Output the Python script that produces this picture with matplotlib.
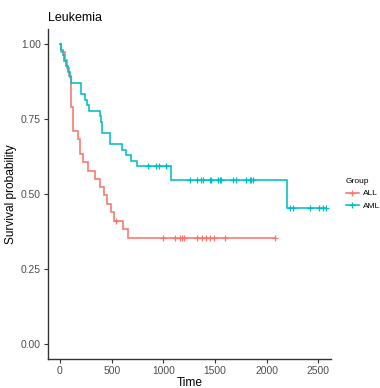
import numpy as np
import matplotlib
matplotlib.use("Agg")
import matplotlib.pyplot as plt
from matplotlib.lines import Line2D

plt.rcParams['font.family'] = ['Liberation Sans', 'DejaVu Sans']

# ---- data ----
groups = ["ALL", "AML"]
colors = ["#F8766D", "#00BFC4"]

all_time = [0, 5, 45, 68, 85, 104, 110, 126, 174, 190, 223, 275, 336, 384, 428, 450, 490, 523, 605, 660]
all_surv = [1.0, 0.974, 0.947, 0.921, 0.895, 0.868, 0.789, 0.711, 0.684, 0.634, 0.607, 0.576, 0.549,
            0.524, 0.496, 0.468, 0.44, 0.41, 0.383, 0.355]
all_end = 2081
all_cens = [539, 996, 1109, 1160, 1180, 1200, 1329, 1373, 1416, 1455, 1490, 1593, 2081]

aml_time = [0, 10, 25, 40, 60, 80, 95, 110, 207, 239, 265, 281, 384, 400, 410, 481, 603, 635, 690,
            745, 1071, 2195]
aml_surv = [1.0, 0.981, 0.963, 0.944, 0.926, 0.907, 0.889, 0.870, 0.833, 0.815, 0.796, 0.778, 0.759,
            0.741, 0.704, 0.667, 0.648, 0.630, 0.611, 0.593, 0.547, 0.452]
aml_end = 2570
aml_cens = [851, 932, 957, 1029, 1261, 1329, 1368, 1383, 1448, 1464, 1528, 1545, 1561, 1673, 1706,
            1803, 1835, 1851, 1867, 2221, 2250, 2415, 2505, 2545, 2570]

x_ticks = [0, 500, 1000, 1500, 2000, 2500]
y_ticks = [0.0, 0.25, 0.5, 0.75, 1.0]
y_ticklabels = ["0.00", "0.25", "0.50", "0.75", "1.00"]

# ---- figure ----
fig = plt.figure(figsize=(3.8, 3.88), dpi=100)
ax = fig.add_axes([48 / 380, 1 - 359 / 388, (331 - 48) / 380, (359 - 29) / 388])

LW = 1.15
MS = 4.2
series = [(all_time, all_surv, all_end, all_cens), (aml_time, aml_surv, aml_end, aml_cens)]
for (t, s, end, cens), col in zip(series, colors):
    t = np.asarray(t, float)
    s = np.asarray(s, float)
    tt = np.append(t, end)
    ss = np.append(s, s[-1])
    ax.step(tt, ss, where='post', color=col, lw=LW, solid_joinstyle='miter')
    c = np.asarray(cens, float)
    cy = s[np.searchsorted(t, c, side='right') - 1]
    ax.plot(c, cy, ls='none', marker='+', ms=MS, mew=0.9, color=col)

ax.set_xlim(-116, 2621)
ax.set_ylim(-0.05, 1.05)
ax.set_xticks(x_ticks)
ax.set_xticklabels([str(v) for v in x_ticks])
ax.set_yticks(y_ticks)
ax.set_yticklabels(y_ticklabels)

for side in ['top', 'right']:
    ax.spines[side].set_visible(False)
for side in ['left', 'bottom']:
    ax.spines[side].set_linewidth(1.0)
    ax.spines[side].set_color('#333333')
ax.tick_params(axis='both', length=3, width=0.8, color='#333333', labelsize=7.4,
               labelcolor='#4D4D4D', pad=2)

ax.set_xlabel("Time", fontsize=8.6, labelpad=1, color='black')
ax.set_ylabel("Survival probability", fontsize=8.6, labelpad=3, color='black')
ax.set_title("Leukemia", fontsize=9, loc='left', pad=6, color='black')

handles = [Line2D([0], [0], color=c, lw=LW, marker='+', ms=MS, mew=0.9) for c in colors]
leg = fig.legend(handles, groups, title="Group", loc='center left',
                 bbox_to_anchor=(346 / 380, 0.5), frameon=False,
                 fontsize=6.0, title_fontsize=6.0, handlelength=1.5, handletextpad=0.5,
                 labelspacing=0.55, alignment='left', borderaxespad=0, borderpad=0)

fig.savefig("out.png", dpi=100)
